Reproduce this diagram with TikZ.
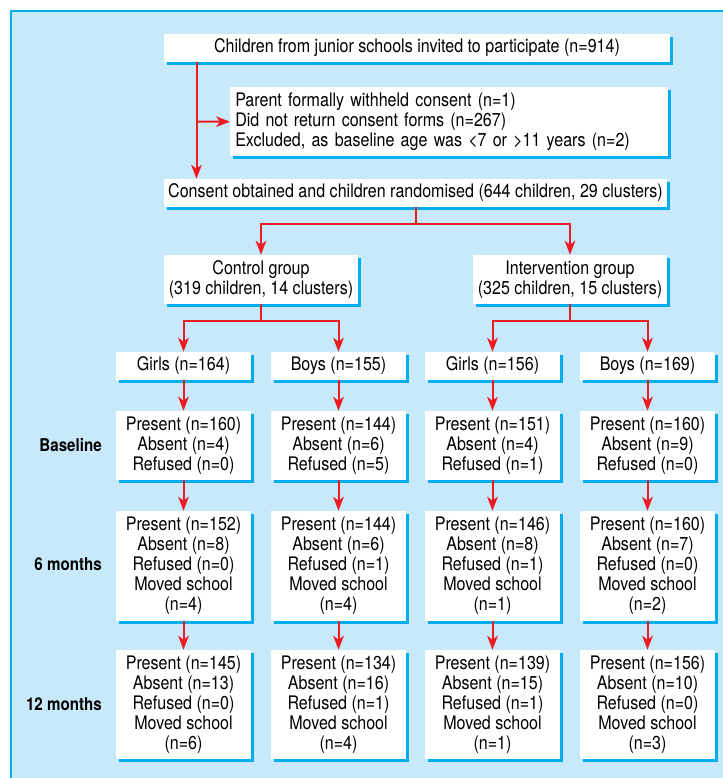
\documentclass[tikz,border=0pt]{standalone}
\usepackage{fontspec}
\setmainfont{TeX Gyre Heros}[FakeStretch=0.86]
\usetikzlibrary{arrows.meta,shadows,calc}
\definecolor{paneblue}{RGB}{199,233,249}
\definecolor{edgecyan}{RGB}{0,174,239}
\definecolor{linkred}{RGB}{237,28,36}
\tikzset{
  card/.style={fill=white, inner sep=0pt, align=center,
    font=\fontsize{14}{15}\selectfont,
    drop shadow={shadow xshift=2.3pt, shadow yshift=-2.3pt, fill=edgecyan, opacity=1}},
  smallcard/.style={card, minimum width=101.25pt, minimum height=21pt},
  link/.style={draw=linkred, line width=1.5pt},
  arrow/.style={link, -{Stealth[length=10.5pt, width=8pt, inset=3pt]}},
  rowlabel/.style={anchor=east, inner sep=0pt, font=\fontsize{13.2}{15}\selectfont\bfseries},
}

\begin{document}
\begin{tikzpicture}[x=0.75pt, y=-0.75pt]

    \useasboundingbox (0,0) rectangle (723,778);
    \fill[paneblue] (11,11) rectangle (723,778);
    \draw[edgecyan, line width=0.8pt] (11,778) -- (11,11) -- (723,11);

    % enrolment
    \node[card, minimum width=379.5pt, minimum height=21pt] (invited) at (417,48)
        {Children from junior schools invited to participate (n=914)};
    \node[card, anchor=north west, align=left, text width=321pt, inner xsep=3.75pt,
          minimum height=51.75pt] (excluded) at (230,87)
        {Parent formally withheld consent (n=1)\\
         Did not return consent forms (n=267)\\
         Excluded, as baseline age was <7 or >11 years (n=2)};
    \node[card, minimum width=377.25pt, minimum height=21pt] (consent) at (415.5,193)
        {Consent obtained and children randomised (644 children, 29 clusters)};

    % groups
    \node[card, minimum width=145.5pt, minimum height=36.75pt] (control) at (261,279.5)
        {Control group\\(319 children, 14 clusters)};
    \node[card, minimum width=145.5pt, minimum height=36.75pt] (interv) at (570,279.5)
        {Intervention group\\(325 children, 15 clusters)};

    % sexes
    \node[smallcard] (girlsC) at (183.5,366) {Girls (n=164)};
    \node[smallcard] (boysC)  at (338.5,366) {Boys (n=155)};
    \node[smallcard] (girlsI) at (492.5,366) {Girls (n=156)};
    \node[smallcard] (boysI)  at (647.5,366) {Boys (n=169)};

    % baseline
    \node[rowlabel] (lblBase) at (102,445.5) {Baseline};
    \node[card, minimum width=101.25pt, minimum height=51.75pt] (baseGC) at (183.5,445.5)
        {Present (n=160)\\Absent (n=4)\\Refused (n=0)};
    \node[card, minimum width=101.25pt, minimum height=51.75pt] (baseBC) at (338.5,445.5)
        {Present (n=144)\\Absent (n=6)\\Refused (n=5)};
    \node[card, minimum width=101.25pt, minimum height=51.75pt] (baseGI) at (492.5,445.5)
        {Present (n=151)\\Absent (n=4)\\Refused (n=1)};
    \node[card, minimum width=101.25pt, minimum height=51.75pt] (baseBI) at (647.5,445.5)
        {Present (n=160)\\Absent (n=9)\\Refused (n=0)};

    % 6 months
    \node[rowlabel] (lblSix) at (102,564) {6 months};
    \node[card, minimum width=101.25pt, minimum height=82.5pt] (sixGC) at (183.5,566)
        {Present (n=152)\\Absent (n=8)\\Refused (n=0)\\Moved school\\(n=4)};
    \node[card, minimum width=101.25pt, minimum height=82.5pt] (sixBC) at (338.5,566)
        {Present (n=144)\\Absent (n=6)\\Refused (n=1)\\Moved school\\(n=4)};
    \node[card, minimum width=101.25pt, minimum height=82.5pt] (sixGI) at (492.5,566)
        {Present (n=146)\\Absent (n=8)\\Refused (n=1)\\Moved school\\(n=1)};
    \node[card, minimum width=101.25pt, minimum height=82.5pt] (sixBI) at (647.5,566)
        {Present (n=160)\\Absent (n=7)\\Refused (n=0)\\Moved school\\(n=2)};

    % 12 months
    \node[rowlabel] (lblTwelve) at (102,704) {12 months};
    \node[card, minimum width=101.25pt, minimum height=81.75pt] (twelveGC) at (183.5,704.5)
        {Present (n=145)\\Absent (n=13)\\Refused (n=0)\\Moved school\\(n=6)};
    \node[card, minimum width=101.25pt, minimum height=81.75pt] (twelveBC) at (338.5,704.5)
        {Present (n=134)\\Absent (n=16)\\Refused (n=1)\\Moved school\\(n=4)};
    \node[card, minimum width=101.25pt, minimum height=81.75pt] (twelveGI) at (492.5,704.5)
        {Present (n=139)\\Absent (n=15)\\Refused (n=1)\\Moved school\\(n=1)};
    \node[card, minimum width=101.25pt, minimum height=81.75pt] (twelveBI) at (647.5,704.5)
        {Present (n=156)\\Absent (n=10)\\Refused (n=0)\\Moved school\\(n=3)};

    % connectors
    \coordinate (split) at (196.5,121.5);
    \draw[arrow] (invited.south -| split) -- (consent.north -| split);
    \draw[arrow] (split) -- (excluded.west);

    \coordinate (forkA) at ($(consent.south)+(0,17)$);
    \draw[link] (consent.south) -- (forkA);
    \draw[arrow] (forkA) -| (control.north);
    \draw[arrow] (forkA) -| (interv.north);

    \coordinate (forkC) at ($(control.south)+(0,17)$);
    \draw[link] (control.south) -- (forkC);
    \draw[arrow] (forkC) -| (girlsC.north);
    \draw[arrow] (forkC) -| (boysC.north);

    \coordinate (forkI) at ($(interv.south)+(0,17)$);
    \draw[link] (interv.south) -- (forkI);
    \draw[arrow] (forkI) -| (girlsI.north);
    \draw[arrow] (forkI) -| (boysI.north);

    \draw[arrow] (girlsC) -- (baseGC);
    \draw[arrow] (boysC)  -- (baseBC);
    \draw[arrow] (girlsI) -- (baseGI);
    \draw[arrow] (boysI)  -- (baseBI);

    \draw[arrow] (baseGC) -- (sixGC);
    \draw[arrow] (baseBC) -- (sixBC);
    \draw[arrow] (baseGI) -- (sixGI);
    \draw[arrow] (baseBI) -- (sixBI);

    \draw[arrow] (sixGC) -- (twelveGC);
    \draw[arrow] (sixBC) -- (twelveBC);
    \draw[arrow] (sixGI) -- (twelveGI);
    \draw[arrow] (sixBI) -- (twelveBI);

\end{tikzpicture}
\end{document}
